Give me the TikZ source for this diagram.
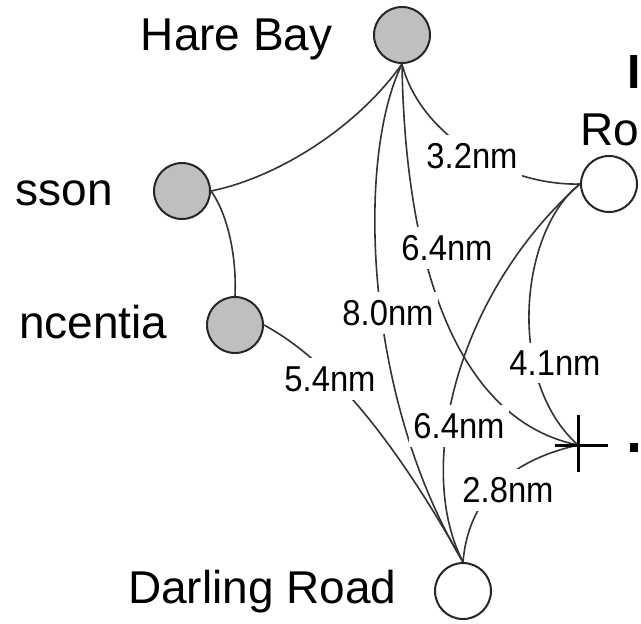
\documentclass[tikz,border=0pt]{standalone}
\usepackage{fontspec}
\setmainfont{Liberation Sans}
\newfontfamily\lblfont[FakeStretch=0.91]{Liberation Sans}
\begin{document}
\begin{tikzpicture}[x=0.5pt,y=-0.5pt,
  city/.style={circle,draw=black!85,line width=1pt,minimum size=28pt,inner sep=0pt},
  gcity/.style={city,fill=gray!50},
  wcity/.style={city,fill=white},
  place/.style={font=\fontsize{23pt}{26pt}\selectfont,inner sep=0pt},
  dist/.style={font=\lblfont\fontsize{18pt}{20pt}\selectfont,fill=white,inner xsep=2pt,inner ysep=4pt},
  link/.style={draw=black!80,line width=0.8pt},
  crossmark/.style={draw=black,line width=1.5pt},
]
\useasboundingbox (0,0) rectangle (641,623);
\begin{scope}
\clip (0,0) rectangle (641,623);
% stations
\node[gcity] (hb) at (402,35) {};
\node[gcity] (ss) at (182,191) {};
\node[gcity] (pl) at (235,325) {};
\node[wcity] (dr) at (463,591) {};
\node[wcity] (ro) at (609,184) {};
\coordinate (cr) at (578,445);
% connectors
\path[link] (hb.south) .. controls (355,130) and (275,178) .. (ss.east);
\path[link] (ss.east) .. controls (225,210) and (237,250) .. (pl.north);
\path[link] (pl.east) .. controls (310,350) and (375,405) .. (dr.north);
\path[link] (hb.south) .. controls (355,160) and (365,400) .. (dr.north);
\path[link] (hb.south) .. controls (405,260) and (455,420) .. (cr);
\path[link] (hb.south) .. controls (420,135) and (505,186) .. (ro.west);
\path[link] (ro.west) .. controls (455,295) and (415,470) .. (dr.north);
\path[link] (ro.west) .. controls (520,230) and (505,380) .. (cr);
\path[link] (cr) .. controls (535,455) and (470,480) .. (dr.north);
% distance labels
\node[dist] (d32) at (472,156) {3.2nm};
\node[dist] (d64a) at (447,248) {6.4nm};
\node[dist] (d80) at (388,313) {8.0nm};
\node[dist] (d54) at (330,379) {5.4nm};
\node[dist] (d41) at (555,363) {4.1nm};
\node[dist] (d64b) at (459,426) {6.4nm};
\node[dist] (d28) at (508,490) {2.8nm};
% cross marker
\path[crossmark] (cr) ++(0,-30) -- ++(0,57);
\path[crossmark] (cr) ++(-23,0) -- ++(53,0);
% names
\node[place,anchor=base east] (thb) at (333,50) {Hare Bay};
\node[place,anchor=base east] (tss) at (113,205) {sson};
\node[place,anchor=base east] (tpl) at (168,338) {ncentia};
\node[place,anchor=base east] (tdr) at (397,603) {Darling Road};
\node[place,anchor=base west] (tro) at (580,145) {Ro};
\node[place,anchor=base west,font=\fontsize{24pt}{26pt}\selectfont\bfseries] (ttl) at (627,88) {I};
\fill[black] (630,443) rectangle (638,452);
\end{scope}
\end{tikzpicture}
\end{document}
